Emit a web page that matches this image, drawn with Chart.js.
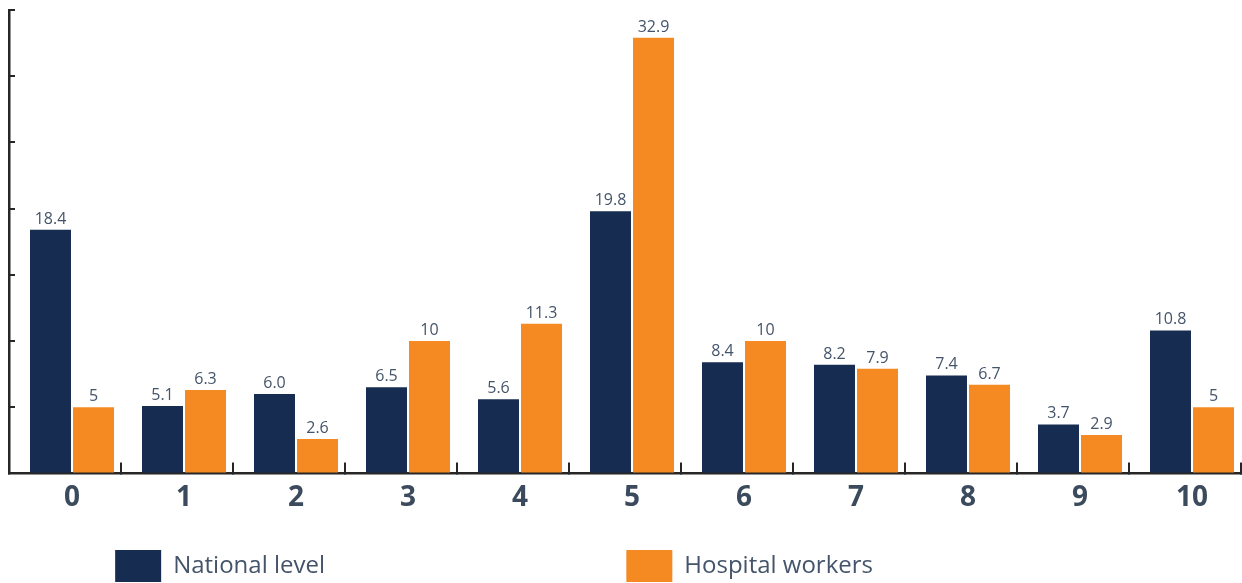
<!DOCTYPE html>
<html>
<head>
<meta charset="utf-8">
<script src="https://cdn.jsdelivr.net/npm/chart.js@4/dist/chart.umd.min.js"></script>
<style>
  html, body { margin: 0; padding: 0; background: #fff; }
  #wrap { width: 1242px; height: 583px; }
</style>
</head>
<body>
<div id="wrap"><canvas id="myBarChart"></canvas></div>
<script>
// chart data
var categories = [0, 1, 2, 3, 4, 5, 6, 7, 8, 9, 10];
var nationalValues = [18.4, 5.1, 6.0, 6.5, 5.6, 19.8, 8.4, 8.2, 7.4, 3.7, 10.8];
var hospitalValues = [5, 6.3, 2.6, 10, 11.3, 32.9, 10, 7.9, 6.7, 2.9, 5];
var seriesNames = ['National level', 'Hospital workers'];
var yTicks = [0, 5, 10, 15, 20, 25, 30, 35];

var navy = '#172c51';
var orange = '#f58a22';
var textColor = '#44546a';
var axisColor = '#262626';
var fontFamily = "'Open Sans', 'Noto Sans', sans-serif";

// legend text is padded with spaces so the two items sit where they do in the picture
var legendFont = '24px ' + fontFamily;
var legendTextWidths = [430, 455];

function padText(text, width) {
    var c = document.createElement('canvas').getContext('2d');
    c.font = legendFont;
    while (c.measureText(text + ' ').width <= width) {
        text += ' ';
    }
    return text;
}

// draws the value on top of each bar
var valueLabels = {
    id: 'valueLabels',
    afterDatasetsDraw: function(chart) {
        var ctx = chart.ctx;
        ctx.save();
        ctx.font = '16px ' + fontFamily;
        ctx.fillStyle = textColor;
        ctx.textAlign = 'center';
        ctx.textBaseline = 'alphabetic';
        chart.data.datasets.forEach(function(ds, i) {
            chart.getDatasetMeta(i).data.forEach(function(bar, j) {
                ctx.fillText(ds.format(ds.data[j]), bar.x, bar.y - 6);
            });
        });
        ctx.restore();
    }
};

const ctx = document.getElementById('myBarChart');

new Chart(ctx, {
    type: 'bar',
    data: {
        labels: categories,
        datasets: [{
            label: seriesNames[0],
            data: nationalValues,
            backgroundColor: navy,
            borderWidth: 0,
            xAxisID: 'xl',
            format: function(v) { return v.toFixed(1); }
        }, {
            label: seriesNames[1],
            data: hospitalValues,
            backgroundColor: orange,
            borderWidth: 0,
            xAxisID: 'xl',
            format: function(v) { return String(v); }
        }]
    },
    plugins: [valueLabels],
    options: {
        responsive: true,
        maintainAspectRatio: false,
        animation: false,
        categoryPercentage: 0.768,
        barPercentage: 0.953,
        layout: { padding: { left: 9, right: 1, top: 10, bottom: -9 } },
        scales: {
            // axis line with the boundary tick marks
            x: {
                type: 'linear',
                position: 'bottom',
                weight: 0,
                offset: false,
                min: 0,
                max: categories.length,
                afterFit: function(s) { s.height = 0; },
                ticks: { display: false, stepSize: 1 },
                grid: { offset: false, drawOnChartArea: false, tickLength: -11, color: axisColor, lineWidth: 2 },
                border: { color: axisColor, width: 2.5 }
            },
            // category labels, bars are centered a bit right of each slot
            xl: {
                type: 'linear',
                position: 'bottom',
                weight: 1,
                offset: false,
                min: categories[0] - 0.5625,
                max: categories[categories.length - 1] + 0.4375,
                afterBuildTicks: function(s) {
                    s.ticks = categories.map(function(v) { return { value: v }; });
                },
                ticks: {
                    padding: 8,
                    color: '#3b4a5c',
                    font: { family: fontFamily, size: 28, weight: 'bold' },
                    callback: function(v) { return String(v); }
                },
                grid: { offset: false, display: false, drawTicks: false },
                border: { display: false }
            },
            y: {
                min: yTicks[0],
                max: yTicks[yTicks.length - 1],
                afterFit: function(s) { s.width = 0; },
                ticks: { display: false, stepSize: 5 },
                grid: { drawOnChartArea: false, tickLength: -6, color: axisColor, lineWidth: 2 },
                border: { color: axisColor, width: 2.5 }
            }
        },
        plugins: {
            legend: {
                position: 'bottom',
                labels: {
                    boxWidth: 46,
                    boxHeight: 32,
                    padding: 27,
                    color: textColor,
                    font: { family: fontFamily, size: 24 },
                    generateLabels: function(chart) {
                        var items = Chart.defaults.plugins.legend.labels.generateLabels(chart);
                        items.forEach(function(it, i) {
                            it.text = padText(it.text, legendTextWidths[i]);
                            it.lineWidth = 0;
                        });
                        return items;
                    }
                }
            },
            tooltip: { enabled: false }
        }
    }
});
</script>
</body>
</html>
